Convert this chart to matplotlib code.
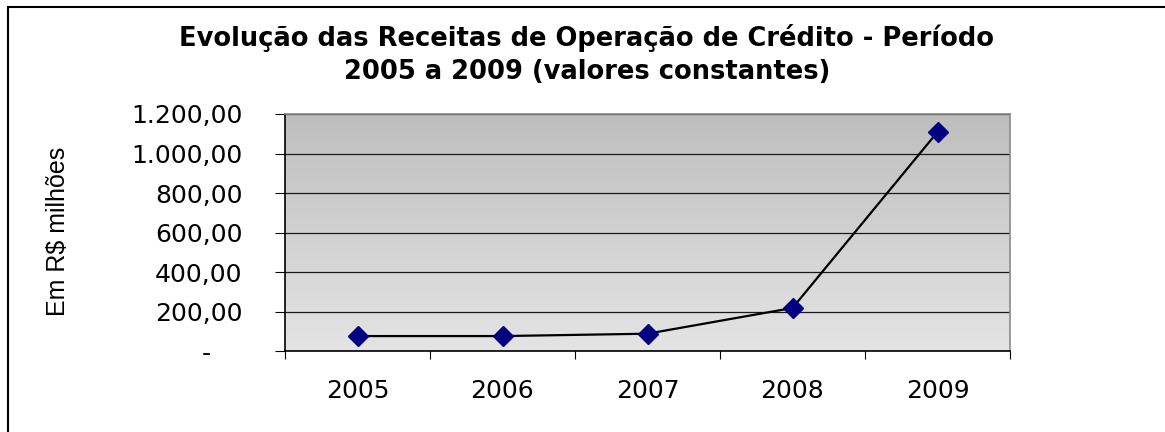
import matplotlib
matplotlib.use("Agg")
import matplotlib.pyplot as plt
import numpy as np
from matplotlib.patches import Rectangle
from matplotlib.colors import LinearSegmentedColormap

years = ["2005", "2006", "2007", "2008", "2009"]
values = [77, 77, 89, 219, 1109]
yticks = [0, 200, 400, 600, 800, 1000, 1200]
ytick_labels = ["-    ", "200,00", "400,00", "600,00", "800,00", "1.000,00", "1.200,00"]

plt.rcParams['font.family'] = ['DejaVu Sans']

fig = plt.figure(figsize=(11.65, 4.32), dpi=100)
ax = fig.add_axes([285/1165, 1-351.3/432, (1010-285)/1165, (351.3-114)/432])

# frame around the figure
fig.patches.append(Rectangle((8/1165, -0.1), 1.2, 1-7/432+0.1, transform=fig.transFigure,
                             fill=False, edgecolor='black', linewidth=1.5))

# gradient background
grad = np.linspace(0, 1, 256).reshape(-1, 1)
cmap = LinearSegmentedColormap.from_list("g", ["#e4e4e4", "#bebebe"])
ax.imshow(grad, extent=[0, 1, 0, 1], transform=ax.transAxes, aspect='auto',
          cmap=cmap, origin='lower', zorder=0)

x = np.arange(len(years))
ax.plot(x, values, color='black', linewidth=1.6, marker='D', markersize=10,
        markerfacecolor='#000080', markeredgecolor='#000080', zorder=3)

ax.set_xlim(-0.5, len(years) - 0.5)
ax.set_ylim(0, 1200)
ax.set_yticks(yticks)
ax.set_yticklabels(ytick_labels, fontsize=18)
ax.yaxis.grid(True, color='#1a1a1a', linewidth=0.9)
for gl in ax.get_ygridlines():
    gl.set_zorder(1)

ax.set_xticks(np.arange(-0.5, len(years), 1.0))
ax.set_xticklabels([])
ax.set_xticks(x, minor=True)
ax.set_xticklabels(years, minor=True, fontsize=18)
ax.tick_params(axis='x', which='minor', length=0, pad=20)
ax.tick_params(axis='x', which='major', length=6, direction='out', color='black')
ax.tick_params(axis='y', length=7.5, direction='out', pad=23)

ax.spines['left'].set_color('black')
ax.spines['bottom'].set_color('black')
ax.spines['top'].set_color('#8a8a8a')
ax.spines['right'].set_color('#8a8a8a')
for s in ax.spines.values():
    s.set_linewidth(1.2)

fig.text(58/1165, 1-231/432, "Em R$ milhões", rotation=90, ha='center', va='center',
         fontsize=18, family=['Liberation Sans', 'DejaVu Sans'])
fig.text(587/1165, 1-38/432, "Evolução das Receitas de Operação de Crédito - Período",
         ha='center', va='center', fontsize=18.5, fontweight='bold')
fig.text(587/1165, 1-72/432, "2005 a 2009 (valores constantes)",
         ha='center', va='center', fontsize=18.5, fontweight='bold')

fig.savefig("out.png", dpi=100)
